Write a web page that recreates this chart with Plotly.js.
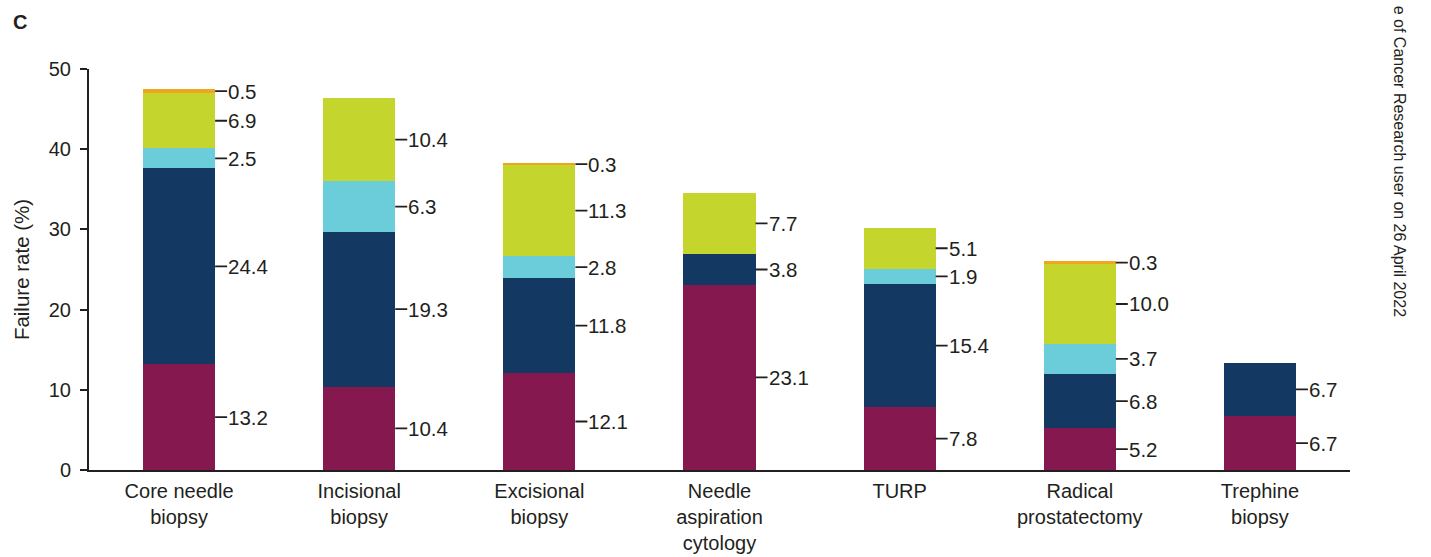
<!DOCTYPE html>
<html>
<head>
<meta charset="utf-8">
<script src="https://cdn.plot.ly/plotly-3.0.1.min.js"></script>
<style>html,body{margin:0;padding:0;background:#fff;}#chart{width:1431px;height:557px;}</style>
</head>
<body>
<div id="chart"></div>
<script>
// ---- data ----
const categories = ["Core needle<br>biopsy", "Incisional<br>biopsy", "Excisional<br>biopsy", "Needle<br>aspiration<br>cytology", "TURP", "Radical<br>prostatectomy", "Trephine<br>biopsy"];
const seriesA = [13.2, 10.4, 12.1, 23.1, 7.8, 5.2, 6.7];   // maroon (bottom)
const seriesB = [24.4, 19.3, 11.8, 3.8, 15.4, 6.8, 6.7];   // navy
const seriesC = [2.5, 6.3, 2.8, null, 1.9, 3.7, null];     // light blue
const seriesD = [6.9, 10.4, 11.3, 7.7, 5.1, 10.0, null];   // lime
const seriesE = [0.5, null, 0.3, null, null, 0.3, null];   // orange (top)
const yTicks = [0, 10, 20, 30, 40, 50];

// ---- styles ----
const colors = ["#84184F", "#133862", "#6BCDDA", "#C4D52D", "#EFA61E"];
const allSeries = [seriesA, seriesB, seriesC, seriesD, seriesE];
const FONT = "Liberation Sans, Arial, Helvetica, sans-serif";
const TXT = "#231F20";
const BARW = 0.4;
const FS = 20.5;

const traces = allSeries.map((s, k) => ({
  type: "bar",
  x: categories,
  y: s,
  width: BARW,
  marker: {color: colors[k], line: {width: 0}},
  hoverinfo: "y",
  showlegend: false
}));

// labels with leader lines at each segment's centre
const annotations = [];
categories.forEach((c, i) => {
  let base = 0;
  allSeries.forEach((s) => {
    const v = s[i];
    if (v === null || v === undefined) return;
    annotations.push({
      x: i + BARW / 2, y: base + v / 2, xref: "x", yref: "y",
      text: v.toFixed(1),
      showarrow: true, arrowhead: 0, arrowwidth: 1.8, arrowcolor: TXT,
      ax: 12, ay: 0, standoff: 0, startstandoff: 0,
      xanchor: "left", yanchor: "middle", borderpad: 0,
      font: {family: FONT, size: FS, color: TXT}
    });
    base += v;
  });
});

// panel letter
annotations.push({
  xref: "paper", yref: "paper", x: -0.062, y: 1.117, xanchor: "left", yanchor: "middle",
  text: "<b>C</b>", showarrow: false, font: {family: FONT, size: 20, color: TXT}
});
// side watermark text
annotations.push({
  xref: "paper", yref: "paper", x: 1.0395, y: 1.162, xanchor: "center", yanchor: "top",
  text: "e of Cancer Research user on 26 April 2022", textangle: 90, showarrow: false,
  font: {family: FONT, size: 16, color: TXT}
});

const layout = {
  width: 1431, height: 557,
  margin: {l: 89, r: 81, t: 69, b: 87},
  paper_bgcolor: "#fff", plot_bgcolor: "#fff",
  barmode: "stack",
  font: {family: FONT, color: TXT, size: FS},
  xaxis: {
    type: "category",
    showline: true, linecolor: TXT, linewidth: 2,
    ticks: "", showgrid: false, zeroline: false,
    tickfont: {family: FONT, size: 20, color: TXT},
    ticklabelstandoff: 2
  },
  yaxis: {
    range: [0, 50], tickvals: yTicks, ticktext: yTicks.map(String),
    showline: true, linecolor: TXT, linewidth: 2,
    ticks: "outside", ticklen: 7, tickwidth: 2, tickcolor: TXT,
    showgrid: false, zeroline: false,
    tickfont: {family: FONT, size: 20, color: TXT},
    ticklabelstandoff: 5,
    title: {text: "Failure rate (%)", font: {family: FONT, size: FS, color: TXT}, standoff: 14}
  },
  annotations: annotations
};

Plotly.newPlot("chart", traces, layout, {displayModeBar: false, staticPlot: true});
</script>
</body>
</html>
